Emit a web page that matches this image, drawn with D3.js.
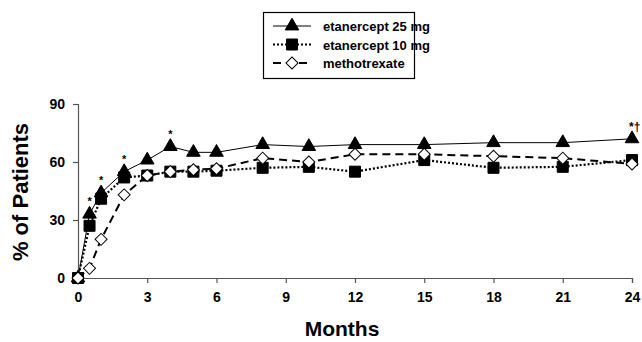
<!DOCTYPE html>
<html>
<head>
<meta charset="utf-8">
<script src="https://cdn.jsdelivr.net/npm/d3@7"></script>
<style>
  body { margin: 0; background: #fff; }
  text { font-family: Arial, "Liberation Sans", sans-serif; font-weight: bold; }
</style>
</head>
<body>
<div id="chart-area"></div>
<script>
// months at which patients were assessed
const months = [0, 0.5, 1, 2, 3, 4, 5, 6, 8, 10, 12, 15, 18, 21, 24];

// % of patients per arm
const eta25 = [0, 33, 44, 55, 61, 68, 65, 65, 69, 68, 69, 69, 70, 70, 72];
const eta10 = [0, 27, 41, 52, 53, 55, 55, 55.5, 57, 57.5, 55, 61, 57, 57.5, 61];
const mtx   = [0, 5, 20, 43, 53, 55, 56, 56.5, 62, 60, 64, 64, 63, 62, 59];

const xTicks = [0, 3, 6, 9, 12, 15, 18, 21, 24];
const yTicks = [0, 30, 60, 90];

// significance marks above the etanercept 25 mg points
const sigMonths = [0.5, 1, 2, 4];
const sigLabels = ["*", "*", "*", "*"];

const width = 642, height = 342;

const svg = d3.select("#chart-area")
  .append("svg")
  .attr("width", width)
  .attr("height", height);

const x = d3.scaleLinear().domain([0, 24]).range([78, 632]);
const y = d3.scaleLinear().domain([0, 90]).range([278, 104]);

// axes
const xAxis = svg.append("g")
  .attr("transform", `translate(0,${y(0)})`)
  .call(d3.axisBottom(x).tickValues(xTicks).tickSize(5).tickPadding(9));
const yAxis = svg.append("g")
  .attr("transform", `translate(${x(0)},0)`)
  .call(d3.axisLeft(y).tickValues(yTicks).tickSize(5).tickPadding(8));

[xAxis, yAxis].forEach(a => {
  a.selectAll("path").attr("stroke", "#555").attr("stroke-width", 1.2);
  a.selectAll("line").attr("stroke", "#555").attr("stroke-width", 1.2);
  a.selectAll("text").attr("font-size", 14).attr("fill", "#000")
    .style("font-family", "Arial, 'Liberation Sans', sans-serif").style("font-weight", "bold");
});

svg.append("text")
  .attr("x", 342).attr("y", 336)
  .attr("text-anchor", "middle")
  .attr("font-size", 21)
  .text("Months");

svg.append("text")
  .attr("transform", `translate(28,192) rotate(-90)`)
  .attr("text-anchor", "middle")
  .attr("font-size", 22)
  .text("% of Patients");

const diamond = d3.symbol().type(d3.symbolSquare).size(72);

const series = [
  { name: "etanercept 25 mg", values: eta25, dash: null, width: 1, shape: d3.symbol().type(d3.symbolTriangle).size(80), rot: 0, fill: "#000" },
  { name: "etanercept 10 mg", values: eta10, dash: "2,2", width: 2.2, shape: d3.symbol().type(d3.symbolSquare).size(121), rot: 0, fill: "#000" },
  { name: "methotrexate", values: mtx, dash: "8,5", width: 2, shape: diamond, rot: 45, fill: "#fff" }
];

const line = d3.line().x(d => x(d[0])).y(d => y(d[1]));

series.forEach(s => {
  const pts = months.map((m, i) => [m, s.values[i]]);
  svg.append("path")
    .datum(pts)
    .attr("fill", "none")
    .attr("stroke", "#000")
    .attr("stroke-width", s.width)
    .attr("stroke-dasharray", s.dash)
    .attr("d", line);
});

// markers drawn after all lines so they sit on top
series.forEach(s => {
  const pts = months.map((m, i) => [m, s.values[i]]);
  svg.append("g").selectAll("path")
    .data(pts)
    .join("path")
    .attr("transform", d => `translate(${x(d[0])},${y(d[1])}) rotate(${s.rot})`)
    .attr("d", s.shape)
    .attr("fill", s.fill)
    .attr("stroke", "#000")
    .attr("stroke-width", 1);
});

// asterisks
svg.append("g").selectAll("text")
  .data(sigMonths)
  .join("text")
  .attr("x", d => x(d))
  .attr("y", d => y(eta25[months.indexOf(d)]) - 9)
  .attr("text-anchor", "middle")
  .attr("font-size", 11)
  .attr("font-weight", "normal")
  .text((d, i) => sigLabels[i]);

svg.append("text")
  .attr("x", x(24) - 3).attr("y", y(eta25[eta25.length - 1]) - 8)
  .attr("font-size", 12)
  .attr("font-weight", "normal")
  .text("*†");

// legend
const lg = svg.append("g");
lg.append("rect")
  .attr("x", 263.5).attr("y", 12.5)
  .attr("width", 151).attr("height", 66)
  .attr("fill", "#fff")
  .attr("stroke", "#000")
  .attr("stroke-width", 1.2);

series.forEach((s, i) => {
  const yy = 26 + i * 18.5;
  lg.append("line")
    .attr("x1", 273).attr("x2", 311)
    .attr("y1", yy).attr("y2", yy)
    .attr("stroke", "#000")
    .attr("stroke-width", s.width)
    .attr("stroke-dasharray", s.dash);
  lg.append("path")
    .attr("transform", `translate(292,${yy}) rotate(${s.rot})`)
    .attr("d", s.shape)
    .attr("fill", s.fill)
    .attr("stroke", "#000");
  lg.append("text")
    .attr("x", 323).attr("y", yy + 5)
    .attr("font-size", 13)
    .text(s.name);
});
</script>
</body>
</html>
